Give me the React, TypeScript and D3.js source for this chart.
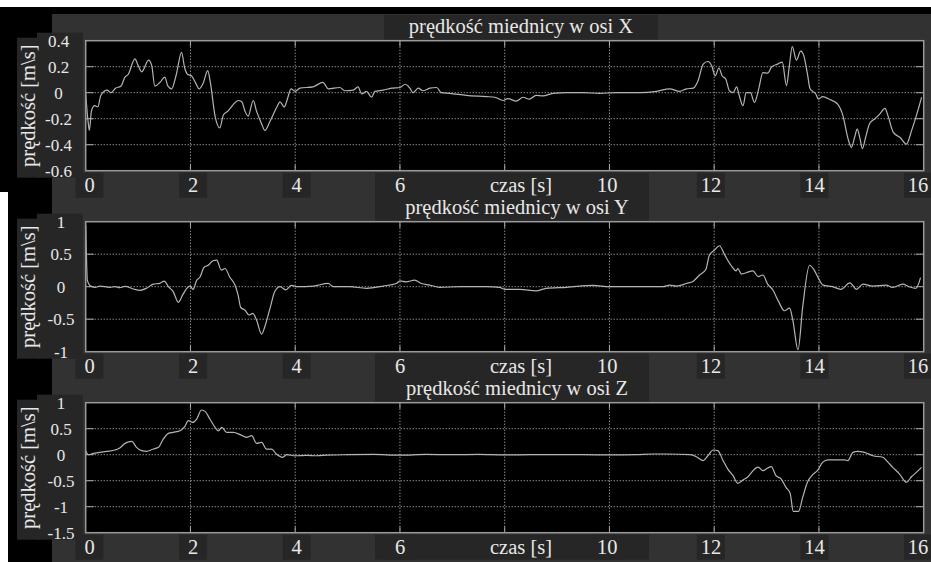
import React, { useEffect, useRef } from 'react';
import * as d3 from 'd3';

// czas [s] i wartości prędkości
const tX = [0, 0.04, 0.07, 0.11, 0.17, 0.23, 0.29, 0.41, 0.48, 0.57, 0.67, 0.75, 0.81, 0.94, 1.0, 1.07, 1.2, 1.26, 1.32, 1.42, 1.51, 1.57, 1.64, 1.73, 1.83, 1.89, 1.95, 2.02, 2.08, 2.17, 2.24, 2.33, 2.38, 2.47, 2.56, 2.63, 2.72, 2.82, 2.91, 2.98, 3.04, 3.1, 3.2, 3.26, 3.36, 3.42, 3.52, 3.65, 3.71, 3.79, 3.85, 3.92, 4.0, 4.09, 4.34, 4.53, 4.63, 4.85, 4.95, 5.11, 5.2, 5.27, 5.36, 5.46, 5.52, 5.68, 5.84, 6.0, 6.1, 6.19, 6.25, 6.35, 6.44, 6.57, 6.7, 6.79, 6.95, 7.27, 7.65, 7.81, 7.97, 8.06, 8.22, 8.35, 8.47, 8.6, 8.73, 8.92, 9.18, 9.5, 9.81, 10.13, 10.58, 10.9, 11.15, 11.34, 11.47, 11.6, 11.69, 11.79, 11.88, 11.95, 12.02, 12.09, 12.15, 12.22, 12.29, 12.36, 12.43, 12.48, 12.55, 12.61, 12.69, 12.77, 12.85, 12.93, 13.02, 13.1, 13.21, 13.3, 13.38, 13.43, 13.49, 13.57, 13.65, 13.71, 13.78, 13.83, 13.94, 13.99, 14.07, 14.2, 14.36, 14.46, 14.55, 14.62, 14.68, 14.73, 14.78, 14.83, 14.89, 14.97, 15.07, 15.16, 15.26, 15.32, 15.42, 15.55, 15.67, 15.77, 15.88, 15.96];
const vX = [-0.01, -0.2, -0.29, -0.14, -0.1, -0.11, -0.02, 0.02, 0.0, 0.035, 0.05, 0.12, 0.14, 0.26, 0.21, 0.16, 0.25, 0.21, 0.05, 0.08, 0.12, 0.05, 0.03, 0.14, 0.31, 0.19, 0.14, 0.13, 0.09, 0.03, 0.07, 0.17, 0.08, -0.18, -0.27, -0.17, -0.14, -0.09, -0.06, -0.07, -0.14, -0.18, -0.06, -0.14, -0.24, -0.29, -0.22, -0.11, -0.07, -0.11, -0.05, 0.03, 0.01, 0.035, 0.045, 0.08, 0.03, 0.04, 0.015, 0.02, 0.045, -0.01, 0.01, -0.035, 0.01, 0.02, 0.035, 0.04, 0.065, 0.035, 0, 0.035, 0.015, 0.035, 0.04, 0, -0.005, -0.02, -0.03, -0.035, -0.06, -0.045, -0.065, -0.035, -0.05, -0.02, -0.025, -0.005, 0, 0, -0.005, 0, 0, 0.01, 0.03, 0.01, 0.03, 0.035, 0.09, 0.22, 0.24, 0.21, 0.13, 0.19, 0.13, 0.105, 0.015, 0.0, 0.045, -0.025, -0.1, 0.0, 0.0, -0.075, 0.03, 0.155, 0.15, 0.2, 0.22, 0.235, 0.055, 0.19, 0.355, 0.25, 0.32, 0.285, 0.145, 0.03, -0.01, -0.05, -0.03, -0.05, -0.09, -0.18, -0.345, -0.42, -0.345, -0.28, -0.345, -0.43, -0.345, -0.235, -0.2, -0.165, -0.12, -0.18, -0.305, -0.345, -0.395, -0.29, -0.15, -0.035];

const tY = [0, 0.02, 0.03, 0.08, 0.18, 0.27, 0.46, 0.56, 0.65, 0.75, 0.91, 1.04, 1.16, 1.29, 1.41, 1.5, 1.58, 1.67, 1.77, 1.85, 1.93, 1.99, 2.05, 2.12, 2.18, 2.26, 2.34, 2.43, 2.5, 2.59, 2.66, 2.75, 2.85, 2.91, 2.96, 3.04, 3.12, 3.19, 3.26, 3.36, 3.42, 3.52, 3.61, 3.71, 3.82, 3.93, 4.03, 4.35, 4.63, 4.73, 5.04, 5.36, 5.68, 5.93, 6.0, 6.12, 6.28, 6.41, 6.57, 6.76, 7.14, 7.65, 7.9, 8.0, 8.29, 8.6, 8.79, 9.18, 9.69, 10.0, 10.77, 11.02, 11.15, 11.28, 11.47, 11.6, 11.72, 11.84, 11.91, 12.0, 12.1, 12.2, 12.32, 12.42, 12.45, 12.52, 12.61, 12.74, 12.84, 12.93, 13.02, 13.12, 13.23, 13.34, 13.44, 13.5, 13.6, 13.69, 13.82, 13.91, 13.99, 14.08, 14.26, 14.42, 14.59, 14.72, 14.84, 15.03, 15.28, 15.41, 15.6, 15.72, 15.85, 15.94];
const vY = [0.95, 0.3, 0.1, 0.02, -0.01, 0.01, -0.01, 0, -0.015, 0.005, -0.035, -0.055, -0.025, 0.04, 0.05, 0.085, 0, -0.075, -0.24, -0.13, -0.025, 0.01, -0.04, 0.1, 0.145, 0.3, 0.33, 0.4, 0.41, 0.255, 0.28, 0.15, 0.025, -0.13, -0.32, -0.36, -0.435, -0.41, -0.51, -0.73, -0.615, -0.33, -0.075, 0, -0.05, 0.02, 0, 0.01, 0.05, 0, 0, -0.025, 0.01, 0.05, 0.09, 0.075, 0.1, 0.05, 0.025, -0.01, 0, 0, -0.01, -0.04, -0.04, -0.065, -0.025, -0.01, 0.02, 0, 0, 0, 0.025, 0.01, 0.05, 0.085, 0.18, 0.265, 0.49, 0.56, 0.63, 0.49, 0.33, 0.245, 0.28, 0.195, 0.215, 0.245, 0.155, 0.18, 0.04, -0.05, -0.23, -0.37, -0.33, -0.51, -0.97, -0.31, 0.33, 0.255, 0.13, 0.025, 0, -0.04, 0.06, -0.04, 0.04, 0.01, 0.025, -0.01, 0.04, 0, -0.025, 0.14];

const tZ = [0, 0.05, 0.15, 0.27, 0.4, 0.56, 0.65, 0.75, 0.88, 0.97, 1.07, 1.16, 1.29, 1.39, 1.48, 1.58, 1.67, 1.8, 1.89, 1.96, 2.04, 2.12, 2.21, 2.28, 2.37, 2.47, 2.53, 2.6, 2.69, 2.82, 2.95, 3.07, 3.17, 3.26, 3.36, 3.45, 3.55, 3.64, 3.76, 3.84, 4.0, 4.22, 4.41, 4.6, 5.0, 5.5, 6.0, 6.5, 7.0, 7.5, 8.0, 8.5, 9.0, 9.5, 10.0, 10.5, 10.83, 11.09, 11.54, 11.66, 11.79, 11.88, 11.98, 12.07, 12.17, 12.26, 12.36, 12.45, 12.55, 12.65, 12.74, 12.84, 12.93, 13.02, 13.09, 13.18, 13.28, 13.37, 13.45, 13.51, 13.61, 13.69, 13.78, 13.88, 13.97, 14.07, 14.17, 14.33, 14.49, 14.55, 14.65, 14.74, 14.87, 15.03, 15.22, 15.32, 15.41, 15.54, 15.67, 15.77, 15.86, 15.96];
const vZ = [0.077, 0, 0.026, 0.045, 0.064, 0.09, 0.128, 0.218, 0.256, 0.141, 0.077, 0.064, 0.109, 0.141, 0.3, 0.41, 0.43, 0.46, 0.54, 0.654, 0.62, 0.686, 0.86, 0.833, 0.686, 0.526, 0.46, 0.526, 0.43, 0.43, 0.385, 0.333, 0.365, 0.218, 0.237, 0.109, 0.109, 0.013, -0.05, 0, -0.02, -0.013, -0.02, -0.01, 0, 0.005, -0.01, 0.005, 0, 0.005, -0.005, 0, 0, 0, -0.005, 0, 0.013, 0.013, 0, -0.038, -0.115, -0.02, 0.09, 0.077, -0.115, -0.276, -0.404, -0.55, -0.487, -0.42, -0.308, -0.24, -0.308, -0.256, -0.23, -0.404, -0.468, -0.628, -0.744, -1.09, -1.09, -0.82, -0.53, -0.385, -0.308, -0.147, -0.1, -0.1, -0.1, -0.115, 0.045, 0.064, 0.045, -0.02, -0.05, -0.147, -0.244, -0.372, -0.53, -0.42, -0.34, -0.244];

const xTicks = [0, 2, 4, 6, 8, 10, 12, 14, 16];
const xTickLabels = [0, 2, 4, 6, 10, 12, 14, 16]; // "8" jest zasłonięte przez opis osi
const yTicksX = [-0.6, -0.4, -0.2, 0, 0.2, 0.4];
const yTicksY = [-1, -0.5, 0, 0.5, 1];
const yTicksZ = [-1.5, -1, -0.5, 0, 0.5, 1];
const titles = ['prędkość miednicy w osi X', 'prędkość miednicy w osi Y', 'prędkość miednicy w osi Z'];
const xLabel = 'czas [s]';
const yLabel = 'prędkość [m\\s]';

const FONT = '"Liberation Serif", "Times New Roman", serif';

const App = () => {
  const svgRef = useRef(null);

  useEffect(() => {
    const svg = d3.select(svgRef.current);
    svg.selectAll('*').remove();

    // tło okna
    svg.append('rect').attr('width', 931).attr('height', 562).attr('fill', '#ffffff');
    svg.append('rect').attr('x', 0).attr('y', 7).attr('width', 931).attr('height', 555).attr('fill', '#000000');
    svg.append('rect').attr('x', 0).attr('y', 192).attr('width', 8).attr('height', 370).attr('fill', '#ffffff');
    svg.append('rect').attr('x', 52).attr('y', 14).attr('width', 879).attr('height', 548).attr('fill', '#323232');

    const left = 85.7;
    const right = 923.7;
    const h = 130;
    const tops = [40.7, 221.7, 402.7];
    const panels = [
      { t: tX, v: vX, ticks: yTicksX, yc: 58.5 },
      { t: tY, v: vY, ticks: yTicksY, yc: 61 },
      { t: tZ, v: vZ, ticks: yTicksZ, yc: 61 },
    ];

    const x = d3.scaleLinear().domain([0, 16]).range([left, right]);
    const labelX = d3.scaleLinear().domain([0, 16]).range([89.5, 918]);
    const box = '#262626';
    const txt = '#e8e8e8';

    panels.forEach((p, i) => {
      const top = tops[i];
      const bottom = top + h;
      const y = d3.scaleLinear().domain(d3.extent(p.ticks)).range([bottom, top]);
      const g = svg.append('g');

      // tła napisów
      g.append('rect').attr('x', 17).attr('y', top - 3).attr('width', 23).attr('height', h + 10).attr('fill', box);
      g.append('rect').attr('x', 37).attr('y', top - 8).attr('width', 46).attr('height', h + 15).attr('fill', box);
      g.append('rect').attr('x', 384 - (i > 0 ? 9 : 0)).attr('y', top - 26).attr('width', 274).attr('height', 25).attr('fill', box);
      g.append('rect').attr('x', 375).attr('y', bottom + 2).attr('width', 274).attr('height', 25).attr('fill', box);
      g.selectAll('.xb').data(xTickLabels).enter().append('rect')
        .attr('x', d => labelX(d) - 14)
        .attr('y', bottom + 2).attr('width', 28).attr('height', 25).attr('fill', box);

      // obszar wykresu
      g.append('rect').attr('x', left).attr('y', top).attr('width', right - left).attr('height', h).attr('fill', '#000');

      // siatka
      g.selectAll('.gy').data(p.ticks.slice(1, -1)).enter().append('line')
        .attr('x1', left).attr('x2', right).attr('y1', d => y(d)).attr('y2', d => y(d))
        .attr('stroke', '#c8c8c8').attr('stroke-width', 1).attr('stroke-dasharray', '1,2');
      g.selectAll('.gx').data(xTicks.slice(1, -1)).enter().append('line')
        .attr('y1', top).attr('y2', bottom).attr('x1', d => x(d)).attr('x2', d => x(d))
        .attr('stroke', '#c8c8c8').attr('stroke-width', 1).attr('stroke-dasharray', '1,2');

      // znaczniki osi
      p.ticks.slice(1, -1).forEach(d => {
        g.append('line').attr('x1', left).attr('x2', left + 8).attr('y1', y(d)).attr('y2', y(d)).attr('stroke', '#aaa');
        g.append('line').attr('x1', right - 8).attr('x2', right).attr('y1', y(d)).attr('y2', y(d)).attr('stroke', '#aaa');
      });
      xTicks.slice(1, -1).forEach(d => {
        g.append('line').attr('x1', x(d)).attr('x2', x(d)).attr('y1', top).attr('y2', top + 6).attr('stroke', '#aaa');
        g.append('line').attr('x1', x(d)).attr('x2', x(d)).attr('y1', bottom - 6).attr('y2', bottom).attr('stroke', '#aaa');
      });

      // przebieg
      const line = d3.line().x(d => x(d[0])).y(d => y(d[1])).curve(d3.curveMonotoneX);
      g.append('path')
        .datum(p.t.map((t, k) => [t, p.v[k]]))
        .attr('d', line)
        .attr('fill', 'none').attr('stroke', '#b4b4b4').attr('stroke-width', 1.2)
        .attr('stroke-linejoin', 'round');

      g.append('rect').attr('x', left).attr('y', top).attr('width', right - left).attr('height', h)
        .attr('fill', 'none').attr('stroke', '#9a9a9a').attr('stroke-width', 1.5);

      // napisy
      g.selectAll('.yl').data(p.ticks).enter().append('text')
        .attr('x', p.yc).attr('y', d => y(d) + 6)
        .attr('text-anchor', 'middle').attr('font-family', FONT).attr('font-size', 17).attr('fill', txt)
        .text(d => String(d));
      g.selectAll('.xl').data(xTickLabels).enter().append('text')
        .attr('x', d => labelX(d)).attr('y', bottom + 21)
        .attr('text-anchor', 'middle').attr('font-family', FONT).attr('font-size', 20.5).attr('fill', txt)
        .text(d => String(d));
      g.append('text').attr('x', 521).attr('y', bottom + 21)
        .attr('text-anchor', 'middle').attr('font-family', FONT).attr('font-size', 20.5).attr('fill', txt)
        .text(xLabel);
      g.append('text').attr('x', 521 - (i > 0 ? 4 : 0)).attr('y', top - 8)
        .attr('text-anchor', 'middle').attr('font-family', FONT).attr('font-size', 20.5).attr('fill', txt)
        .text(titles[i]);
      g.append('text')
        .attr('transform', `translate(35,${top + h / 2}) rotate(-90)`)
        .attr('text-anchor', 'middle').attr('font-family', FONT).attr('font-size', 20.5).attr('fill', txt)
        .text(yLabel);
    });
  }, []);

  return (
    <svg ref={svgRef} width={931} height={562} style={{ position: 'fixed', left: 0, top: 0 }}></svg>
  );
};

export default App;
